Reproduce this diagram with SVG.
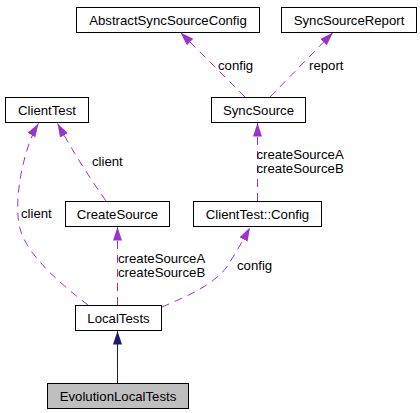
<svg xmlns="http://www.w3.org/2000/svg" width="420" height="413" viewBox="0 0 420 413">
<defs>
<style>
.box{fill:#ffffff;stroke:#000000;stroke-width:1}
.cur{fill:#bfbfbf;stroke:#000000;stroke-width:1}
text{font-family:"Liberation Sans",Arial,Helvetica,sans-serif;font-size:13.2px;fill:#000000}
.c{text-anchor:middle}
.use{fill:none;stroke:#9a32cd;stroke-width:1;stroke-dasharray:8,6;marker-end:url(#ap)}
.inh{fill:none;stroke:#191970;stroke-width:1;marker-end:url(#an)}
</style>
<marker id="ap" markerUnits="userSpaceOnUse" markerWidth="14" markerHeight="10" viewBox="0 0 14 10" refX="13.5" refY="5" orient="auto"><path d="M0,0.5 L13.5,5 L0,9.5 Z" fill="#9a32cd"/></marker>
<marker id="an" markerUnits="userSpaceOnUse" markerWidth="14" markerHeight="10" viewBox="0 0 14 10" refX="13.5" refY="5" orient="auto"><path d="M0,0.5 L13.5,5 L0,9.5 Z" fill="#191970"/></marker>
</defs>
<rect width="420" height="413" fill="#ffffff"/>
<g id="edges">
<path class="use" d="M245,97 L180.5,32.5"/>
<text x="218" y="69.5">config</text>
<path class="use" d="M270,97 L333,32.5"/>
<text x="309" y="69.5">report</text>
<path class="use" d="M106,201 C95,185 78,161 57.5,123.5"/>
<text x="92" y="166">client</text>
<path class="use" d="M88,305 C62,285 30,258 21,232 C12,206 22.5,149.5 38.5,123.5"/>
<text x="21" y="217.5">client</text>
<path class="use" d="M257.5,201 L257.5,123"/>
<text x="256.5" y="159">createSourceA</text>
<text x="256.5" y="172.5">createSourceB</text>
<path class="use" d="M117.5,305 L117.5,227"/>
<text x="118" y="263">createSourceA</text>
<text x="118" y="276.5">createSourceB</text>
<path class="use" d="M162,307 C185,297 215,285 228,265 C233,257 240,246 250,227.5"/>
<text x="237" y="270">config</text>
<path class="inh" d="M117.5,383 L117.5,331"/>
</g>
<g id="AbstractSyncSourceConfig"><rect class="box" x="76.5" y="7.5" width="183" height="25"/><text class="c" x="168" y="25">AbstractSyncSourceConfig</text></g>
<g id="SyncSourceReport"><rect class="box" x="281.5" y="7.5" width="135" height="25"/><text class="c" x="349" y="25">SyncSourceReport</text></g>
<g id="ClientTest"><rect class="box" x="5.5" y="97.5" width="83" height="25"/><text class="c" x="47" y="115">ClientTest</text></g>
<g id="SyncSource"><rect class="box" x="211.5" y="97.5" width="94" height="25"/><text class="c" x="258.5" y="115">SyncSource</text></g>
<g id="CreateSource"><rect class="box" x="65.5" y="201.5" width="104" height="25"/><text class="c" x="117.5" y="219">CreateSource</text></g>
<g id="ClientTestConfig"><rect class="box" x="193.5" y="201.5" width="128" height="25"/><text class="c" x="257.5" y="219">ClientTest::Config</text></g>
<g id="LocalTests"><rect class="box" x="75.5" y="305.5" width="86" height="25"/><text class="c" x="118.5" y="323">LocalTests</text></g>
<g id="EvolutionLocalTests"><rect class="cur" x="47.5" y="383.5" width="141" height="25"/><text class="c" x="118" y="401">EvolutionLocalTests</text></g>
</svg>
